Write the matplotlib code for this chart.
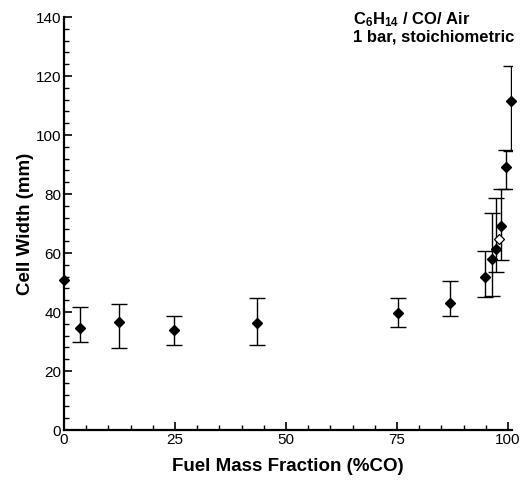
import matplotlib
matplotlib.use("Agg")
import matplotlib.pyplot as plt
from matplotlib.ticker import MultipleLocator

plt.rcParams['font.family'] = 'Liberation Sans'
plt.rcParams['mathtext.fontset'] = 'custom'
plt.rcParams['mathtext.bf'] = 'Liberation Sans:bold'
plt.rcParams['mathtext.rm'] = 'Liberation Sans:bold'
plt.rcParams['mathtext.default'] = 'bf'

# Cell width vs. CO fraction in the fuel
co_frac = [0.0, 3.6, 12.4, 24.8, 43.5, 75.3, 86.9, 94.8, 96.3, 97.2, 98.4, 99.5, 100.7]
cell_width = [50.7, 34.7, 36.5, 33.9, 36.4, 39.8, 42.9, 52.0, 58.0, 61.4, 69.2, 89.0, 111.5]
err_low = [None, 29.7, 27.7, 28.7, 28.7, 34.9, 38.6, 45.0, 45.6, 53.7, 57.6, 81.6, 94.7]
err_high = [None, 41.6, 42.6, 38.6, 44.6, 44.6, 50.6, 60.8, 73.7, 78.5, 81.6, 95.0, 123.5]

# single open-symbol measurement
open_frac = [98.0]
open_width = [64.6]

fig = plt.figure(figsize=(5.27, 4.87), dpi=100)
ax = fig.add_axes([0.1214, 0.117, 0.851, 0.848])

for x, y, lo, hi in zip(co_frac, cell_width, err_low, err_high):
    if lo is None:
        continue
    ax.errorbar([x], [y], yerr=[[y - lo], [hi - y]], fmt='none', ecolor='black',
                elinewidth=1.0, capsize=5.5, capthick=1.0, zorder=2)

ax.plot(co_frac, cell_width, 'D', color='black', markersize=5.5, zorder=3,
        clip_on=False)
ax.plot(open_frac, open_width, 'D', markerfacecolor='white', markeredgecolor='black',
        markersize=5.5, markeredgewidth=0.9, zorder=3)

ax.set_xlim(0, 101)
ax.set_ylim(0, 140)
ax.xaxis.set_major_locator(MultipleLocator(25))
ax.xaxis.set_minor_locator(MultipleLocator(5))
ax.yaxis.set_major_locator(MultipleLocator(20))
ax.yaxis.set_minor_locator(MultipleLocator(4))

for side in ['top', 'right']:
    ax.spines[side].set_visible(False)
for side in ['left', 'bottom']:
    ax.spines[side].set_linewidth(1.6)

ax.tick_params(which='both', direction='in', top=False, right=False, width=1.2,
               labelsize=11, pad=2)
ax.tick_params(which='major', length=6)
ax.tick_params(which='minor', length=3.5, width=1.0)

ax.set_xlabel('Fuel Mass Fraction (%CO)', fontsize=13.5, fontweight='bold', labelpad=8)
ax.set_ylabel('Cell Width (mm)', fontsize=13.5, fontweight='bold', labelpad=1.5)

ax.text(0.67, 0.978, 'C$_{6}$H$_{14}$ / CO/ Air\n1 bar, stoichiometric',
        transform=fig.transFigure, ha='left', va='top', fontsize=12,
        fontweight='bold', linespacing=1.0)

fig.savefig('out.png', dpi=100)
